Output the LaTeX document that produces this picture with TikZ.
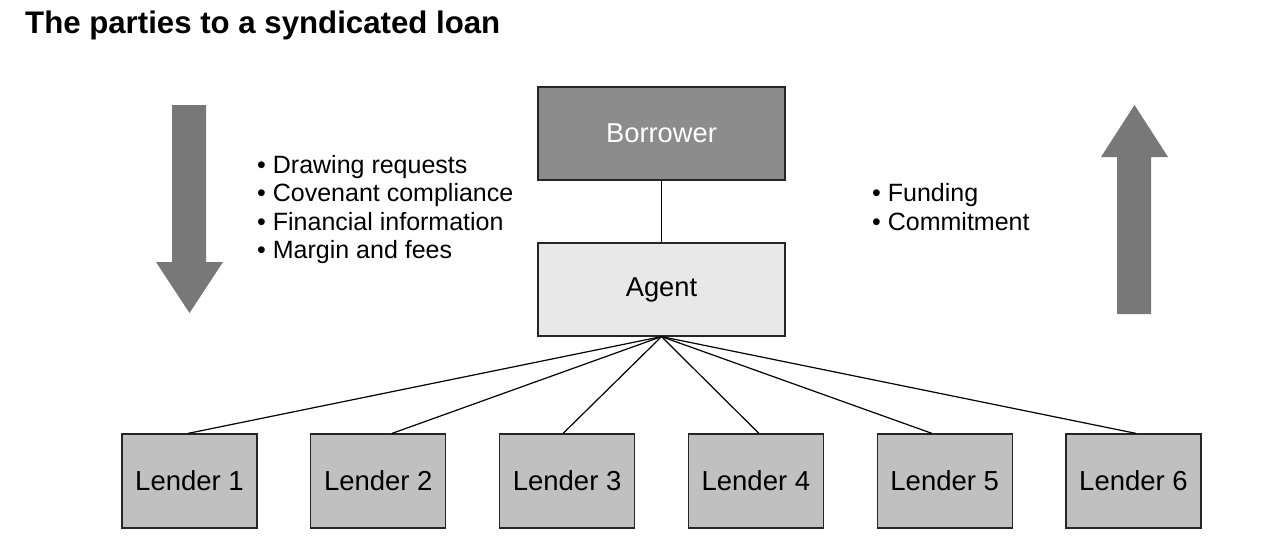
\documentclass[tikz,border=0pt]{standalone}
\usepackage{fontspec}
\setmainfont{Liberation Sans}
\begin{document}
\begin{tikzpicture}[x=1pt,y=-1pt,
  box/.style={draw=black!85,line width=1.2pt,minimum width=247pt,minimum height=93pt,inner sep=0pt,font=\fontsize{27.3}{30}\selectfont},
  lenderbox/.style={draw=black!85,line width=1.2pt,fill=lendergray,minimum width=135pt,minimum height=94pt,inner sep=0pt,font=\fontsize{27.5}{30}\selectfont},
  bullet/.style={anchor=base west,inner sep=0pt,font=\fontsize{25}{28}\selectfont},
  link/.style={draw=black,line width=1.2pt},
  bigarrow/.style={fill=arrowgray,draw=none}]
\definecolor{borrowgray}{HTML}{8C8C8C}
\definecolor{agentgray}{HTML}{E8E8E8}
\definecolor{lendergray}{HTML}{C0C0C0}
\definecolor{arrowgray}{HTML}{787878}
\useasboundingbox (0,0) rectangle (1273,554);
\fill[white] (0,0) rectangle (1273,554);

\node[anchor=base west,inner sep=0pt,font=\fontsize{31.2}{34}\selectfont\bfseries] (title) at (25,33) {The parties to a syndicated loan};

\node[box,fill=borrowgray,text=white] (borrower) at (661.5,133.5) {Borrower};
\node[box,fill=agentgray] (agent) at (661.5,289.5) {Agent};

\foreach \i in {1,...,6}{
  \node[lenderbox] (l\i) at ({189.5+188.8*(\i-1)},481) {Lender \i};
}

\draw[link] (borrower.south) -- (agent.north);
\foreach \i/\dx in {1/-1.5,2/13.7,3/-4,4/3,5/-12.7,6/2.5}{
  \draw[link] (agent.south) -- ([xshift=\dx pt]l\i.north);
}

\fill[bigarrow] (172,105) -- (206,105) -- (206,262) -- (223,262) -- (189.5,313) -- (156,262) -- (172,262) -- cycle;
\fill[bigarrow] (1117,314) -- (1151,314) -- (1151,157) -- (1168,157) -- (1134.5,105) -- (1101,157) -- (1117,157) -- cycle;

\node[bullet] (b1) at (257,173) {• Drawing requests};
\node[bullet] (b2) at (257,201.5) {• Covenant compliance};
\node[bullet] (b3) at (257,230) {• Financial information};
\node[bullet] (b4) at (257,258.5) {• Margin and fees};

\node[bullet] (f1) at (872,201.5) {• Funding};
\node[bullet] (f2) at (872,230) {• Commitment};
\end{tikzpicture}
\end{document}
